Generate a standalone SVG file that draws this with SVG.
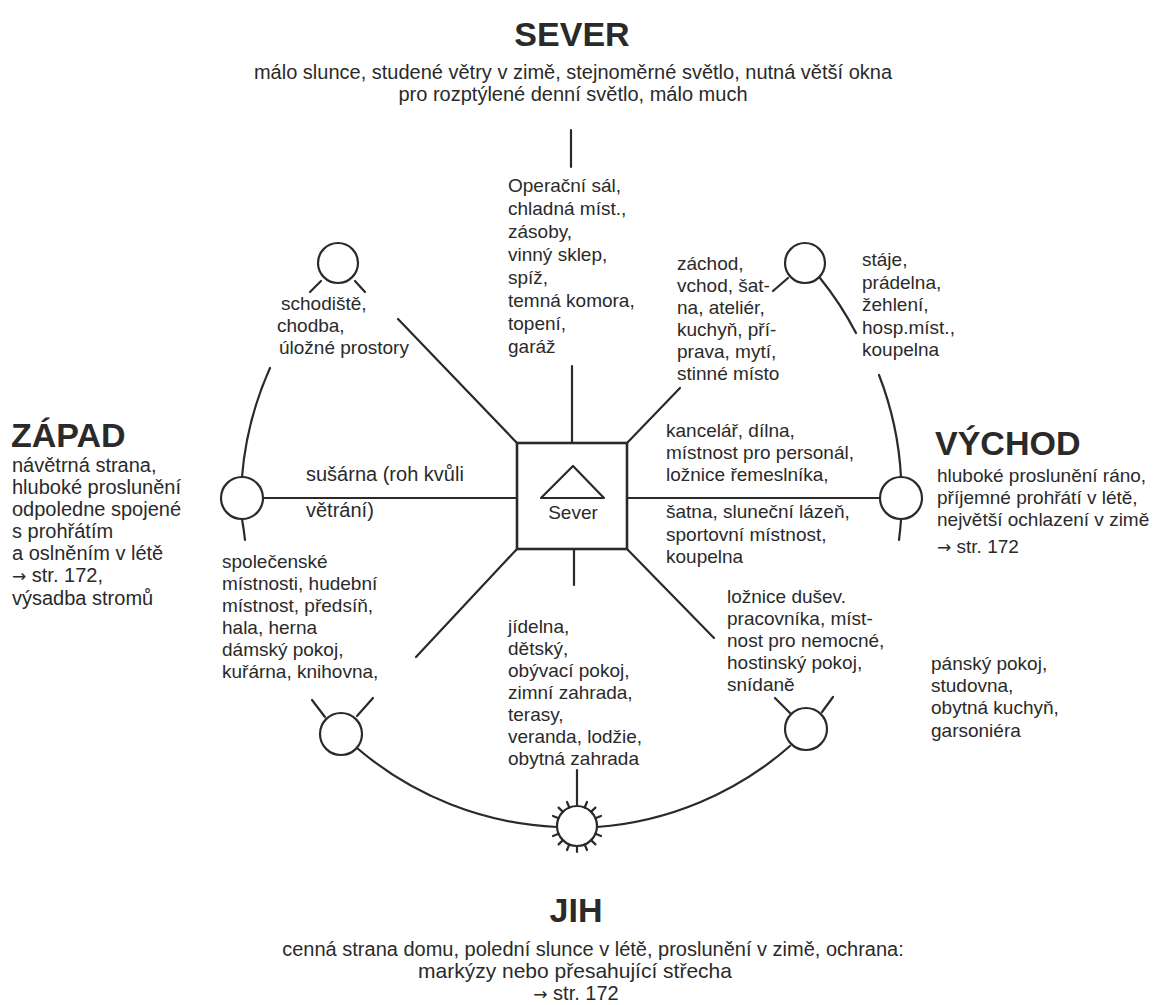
<svg xmlns="http://www.w3.org/2000/svg" width="1159" height="1005" viewBox="0 0 1159 1005">
<style>
text{font-family:"Liberation Sans",Arial,sans-serif;fill:#2a2a2a;font-size:19px}
.h{font-weight:bold;font-size:34px}
.s{font-size:20px}
.c{text-anchor:middle}
.ar{font-family:"DejaVu Sans",sans-serif;font-size:17px}
.ln{stroke:#2a2a2a;stroke-width:2.2;fill:none;stroke-linecap:round}
.cir{stroke:#2a2a2a;stroke-width:2.2;fill:#fff}
</style>
<rect width="1159" height="1005" fill="#fff"/>
<g id="connectors" class="ln">
<line x1="571" y1="130" x2="571" y2="167"/>
<line x1="572" y1="366" x2="572" y2="443"/>
<line x1="574" y1="549" x2="574" y2="585"/>
<line x1="577" y1="770" x2="577" y2="806"/>
<line x1="517" y1="443" x2="398" y2="319"/>
<line x1="627" y1="443" x2="680" y2="388"/>
<line x1="517" y1="549" x2="416" y2="657"/>
<line x1="627" y1="549" x2="714" y2="638"/>
<line x1="263" y1="498" x2="517" y2="498"/>
<line x1="627" y1="498" x2="880" y2="498"/>
<path d="M270,368 A330,330 0 0 0 242,477"/>
<path d="M242,519 A330,330 0 0 1 245,540"/>
<path d="M820,278 A330,330 0 0 1 856,333"/>
<path d="M879,375 A330,330 0 0 1 901,477"/>
<path d="M901,520 A330,330 0 0 1 899,540"/>
<path d="M357,748 A330,330 0 0 0 557,827"/>
<path d="M597,827 A330,330 0 0 0 790,746"/>
<line x1="321" y1="281" x2="310" y2="292"/>
<line x1="355" y1="281" x2="365" y2="292"/>
<line x1="788" y1="278" x2="773" y2="291"/>
<line x1="325" y1="717" x2="312" y2="700"/>
<line x1="357" y1="716" x2="373" y2="698"/>
<line x1="790" y1="713" x2="775" y2="698"/>
<line x1="822" y1="712" x2="833" y2="697"/>
</g>
<g id="center">
<rect x="517" y="443" width="110" height="106" fill="#fff" stroke="#2a2a2a" stroke-width="2.6"/>
<polygon points="573,466 541,498 604,498" fill="none" stroke="#2a2a2a" stroke-width="2.2" stroke-linejoin="round"/>
<text class="c" x="573" y="519">Sever</text>
</g>
<g id="circle-nw"><circle class="cir" cx="338" cy="263" r="20"/></g>
<g id="circle-ne"><circle class="cir" cx="805" cy="263" r="20"/></g>
<g id="circle-w"><circle class="cir" cx="242" cy="498" r="21"/></g>
<g id="circle-e"><circle class="cir" cx="901" cy="498" r="21"/></g>
<g id="circle-sw"><circle class="cir" cx="341" cy="734" r="21"/></g>
<g id="circle-se"><circle class="cir" cx="806" cy="729" r="21"/></g>
<g id="sun">
<circle class="cir" cx="577" cy="826" r="20"/>
<g class="ln" stroke-width="2">
<line x1="584.7" y1="807.5" x2="587" y2="802"/>
<line x1="591.1" y1="811.9" x2="595.4" y2="807.6"/>
<line x1="595.5" y1="818.3" x2="601" y2="816"/>
<line x1="595.5" y1="833.7" x2="601" y2="836"/>
<line x1="591.1" y1="840.1" x2="595.4" y2="844.4"/>
<line x1="584.7" y1="844.5" x2="587" y2="850"/>
<line x1="577" y1="846" x2="577" y2="852"/>
<line x1="569.3" y1="844.5" x2="567" y2="850"/>
<line x1="562.9" y1="840.1" x2="558.6" y2="844.4"/>
<line x1="558.5" y1="833.7" x2="553" y2="836"/>
<line x1="558.5" y1="818.3" x2="553" y2="816"/>
<line x1="562.9" y1="811.9" x2="558.6" y2="807.6"/>
<line x1="569.3" y1="807.5" x2="567" y2="802"/>
</g>
</g>
<g id="north">
<text class="h c" x="572" y="46">SEVER</text>
<text class="s c" x="573" y="79">málo slunce, studené větry v zimě, stejnoměrné světlo, nutná větší okna</text>
<text class="s c" x="573" y="101">pro rozptýlené denní světlo, málo much</text>
</g>
<g id="west">
<text class="h" x="11" y="447">ZÁPAD</text>
<text class="s" x="12" y="472">návětrná strana,</text>
<text class="s" x="12" y="494">hluboké proslunění</text>
<text class="s" x="12" y="516">odpoledne spojené</text>
<text class="s" x="12" y="538">s prohřátím</text>
<text class="s" x="12" y="560">a oslněním v létě</text>
<text class="s" x="12" y="582"><tspan class="ar">→</tspan> str. 172,</text>
<text class="s" x="12" y="605">výsadba stromů</text>
</g>
<g id="east">
<text class="h" x="935" y="455">VÝCHOD</text>
<text x="937" y="482">hluboké proslunění ráno,</text>
<text x="937" y="504">příjemné prohřátí v létě,</text>
<text x="937" y="526">největší ochlazení v zimě</text>
<text x="937" y="553"><tspan class="ar">→</tspan> str. 172</text>
</g>
<g id="south">
<text class="h c" x="576" y="922">JIH</text>
<text class="s c" x="593" y="956">cenná strana domu, polední slunce v létě, proslunění v zimě, ochrana:</text>
<text class="s c" x="575" y="978" style="font-size:21px">markýzy nebo přesahující střecha</text>
<text class="s c" x="576" y="1000"><tspan class="ar">→</tspan> str. 172</text>
</g>
<g id="zone-n">
<text x="508" y="192">Operační sál,</text>
<text x="508" y="215">chladná míst.,</text>
<text x="508" y="238">zásoby,</text>
<text x="508" y="261">vinný sklep,</text>
<text x="508" y="284">spíž,</text>
<text x="508" y="307">temná komora,</text>
<text x="508" y="330">topení,</text>
<text x="508" y="353">garáž</text>
</g>
<g id="zone-nw">
<text x="281" y="310">schodiště,</text>
<text x="277" y="332">chodba,</text>
<text x="279" y="354">úložné prostory</text>
</g>
<g id="zone-nne">
<text x="677" y="270">záchod,</text>
<text x="677" y="292">vchod, šat-</text>
<text x="677" y="314">na, ateliér,</text>
<text x="677" y="336">kuchyň, pří-</text>
<text x="677" y="358">prava, mytí,</text>
<text x="677" y="380">stinné místo</text>
</g>
<g id="zone-ne">
<text x="862" y="266">stáje,</text>
<text x="862" y="288.5">prádelna,</text>
<text x="862" y="311">žehlení,</text>
<text x="862" y="333.5">hosp.míst.,</text>
<text x="862" y="356">koupelna</text>
</g>
<g id="zone-w">
<text class="s" x="306" y="481">sušárna (roh kvůli</text>
<text class="s" x="306" y="517">větrání)</text>
</g>
<g id="zone-e">
<text x="666" y="437">kancelář, dílna,</text>
<text x="666" y="459">místnost pro personál,</text>
<text x="666" y="481">ložnice řemeslníka,</text>
<text x="666" y="518">šatna, sluneční lázeň,</text>
<text x="666" y="541">sportovní místnost,</text>
<text x="666" y="563">koupelna</text>
</g>
<g id="zone-sw">
<text x="222" y="568">společenské</text>
<text x="222" y="590">místnosti, hudební</text>
<text x="222" y="612">místnost, předsíň,</text>
<text x="222" y="634">hala, herna</text>
<text x="222" y="656">dámský pokoj,</text>
<text x="222" y="678">kuřárna, knihovna,</text>
</g>
<g id="zone-s">
<text x="508" y="633">jídelna,</text>
<text x="508" y="655">dětský,</text>
<text x="508" y="677">obývací pokoj,</text>
<text x="508" y="699">zimní zahrada,</text>
<text x="508" y="721">terasy,</text>
<text x="508" y="743">veranda, lodžie,</text>
<text x="508" y="765">obytná zahrada</text>
</g>
<g id="zone-se">
<text x="727" y="603">ložnice dušev.</text>
<text x="727" y="625">pracovníka, míst-</text>
<text x="727" y="647">nost pro nemocné,</text>
<text x="727" y="669">hostinský pokoj,</text>
<text x="727" y="691">snídaně</text>
</g>
<g id="zone-e2">
<text x="931" y="670">pánský pokoj,</text>
<text x="931" y="692">studovna,</text>
<text x="931" y="714">obytná kuchyň,</text>
<text x="931" y="737">garsoniéra</text>
</g>
</svg>
